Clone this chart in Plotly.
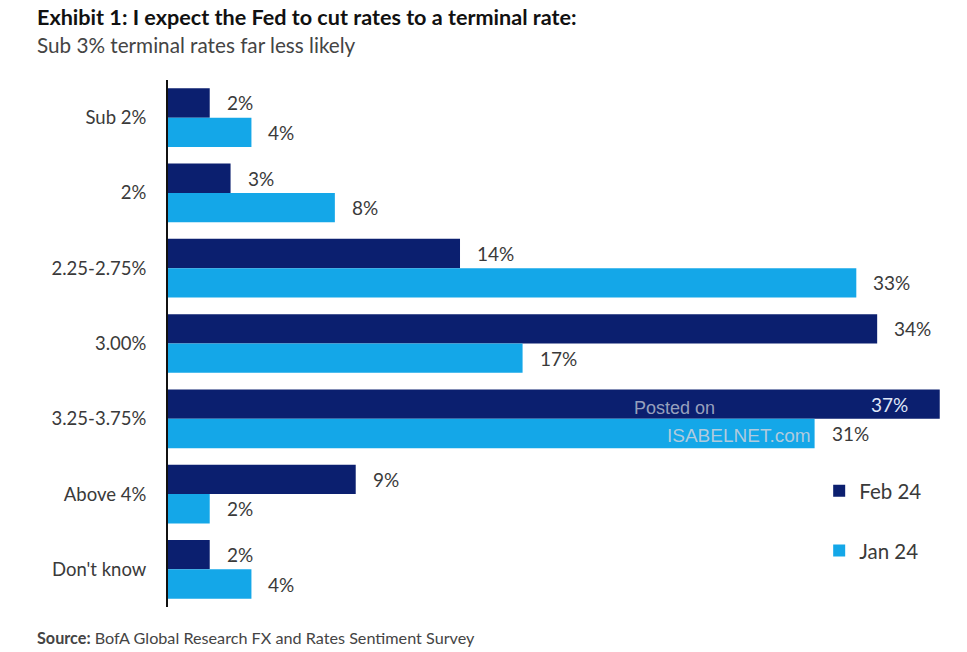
import plotly.graph_objects as go

categories = ["Sub 2%", "2%", "2.25-2.75%", "3.00%", "3.25-3.75%", "Above 4%", "Don't know"]
feb24 = [2, 3, 14, 34, 37, 9, 2]
jan24 = [4, 8, 33, 17, 31, 2, 4]
series_names = ["Feb 24", "Jan 24"]

NAVY = "#0b1f6f"
SKY = "#14a7e8"
TXT = "#3a3a3a"
FONT = "Lato"

fig = go.Figure()
fig.add_trace(go.Bar(y=categories, x=feb24, name=series_names[0], orientation="h",
                     marker=dict(color=NAVY, line=dict(width=0)), legendgroup="a"))
fig.add_trace(go.Bar(y=categories, x=jan24, name=series_names[1], orientation="h",
                     marker=dict(color=SKY, line=dict(width=0)), legendgroup="b"))

XMAX = 37.3
annotations = []
for vals, shift in ((feb24, 14.7), (jan24, -14.7)):
    for cat, v in zip(categories, vals):
        if v >= 36:
            annotations.append(dict(x=v, y=cat, xref="x", yref="y", text=f"{v}%", showarrow=False,
                                    xanchor="right", xshift=-30, yshift=shift,
                                    font=dict(family=FONT, size=19, color="#dfe6f7")))
        else:
            annotations.append(dict(x=v, y=cat, xref="x", yref="y", text=f"{v}%", showarrow=False,
                                    xanchor="left", xshift=15, yshift=shift,
                                    font=dict(family=FONT, size=19, color=TXT)))

annotations += [
    dict(xref="paper", yref="paper", x=-0.171, y=1.1195, xanchor="left", yanchor="middle",
         text="<b>Exhibit 1: I expect the Fed to cut rates to a terminal rate:</b>",
         showarrow=False, font=dict(family=FONT, size=21.6, color="#111111")),
    dict(xref="paper", yref="paper", x=-0.171, y=1.066, xanchor="left", yanchor="middle",
         text="Sub 3% terminal rates far less likely",
         showarrow=False, font=dict(family=FONT, size=20.7, color="#444444")),
    dict(xref="paper", yref="paper", x=-0.171, y=-0.057, xanchor="left", yanchor="middle",
         text="<b>Source:</b> BofA Global Research FX and Rates Sentiment Survey",
         showarrow=False, font=dict(family=FONT, size=16.2, color="#444444")),
    dict(xref="paper", yref="paper", x=0.596, y=0.378, xanchor="left", yanchor="middle",
         text="Posted on", showarrow=False,
         font=dict(family="Liberation Sans", size=18, color="rgba(190,196,210,0.8)")),
    dict(xref="paper", yref="paper", x=0.639, y=0.326, xanchor="left", yanchor="middle",
         text="ISABELNET.com", showarrow=False,
         font=dict(family="Liberation Sans", size=19, color="rgba(205,210,220,0.85)")),
]

fig.update_layout(
    width=967, height=652,
    margin=dict(l=168, r=21, t=80, b=45),
    paper_bgcolor="white", plot_bgcolor="white",
    barmode="group", bargap=0.22, bargroupgap=0,
    showlegend=True,
    legend=dict(x=0.837, y=0.258, xanchor="left", yanchor="top", traceorder="grouped",
                tracegroupgap=30, font=dict(family=FONT, size=20.5, color=TXT),
                itemwidth=30, bgcolor="rgba(0,0,0,0)"),
    annotations=annotations,
    font=dict(family=FONT, color=TXT),
)
fig.update_xaxes(range=[0, XMAX], visible=False, showgrid=False, zeroline=False)
fig.update_yaxes(autorange="reversed", showgrid=False, zeroline=False,
                 showline=True, linecolor="#111111", linewidth=2,
                 ticks="", ticklabelstandoff=16,
                 tickfont=dict(family=FONT, size=18.5, color=TXT))

fig.write_html("out.html", config={"displayModeBar": False},
               post_script="document.body.style.margin='0px';document.body.style.overflow='hidden';")
